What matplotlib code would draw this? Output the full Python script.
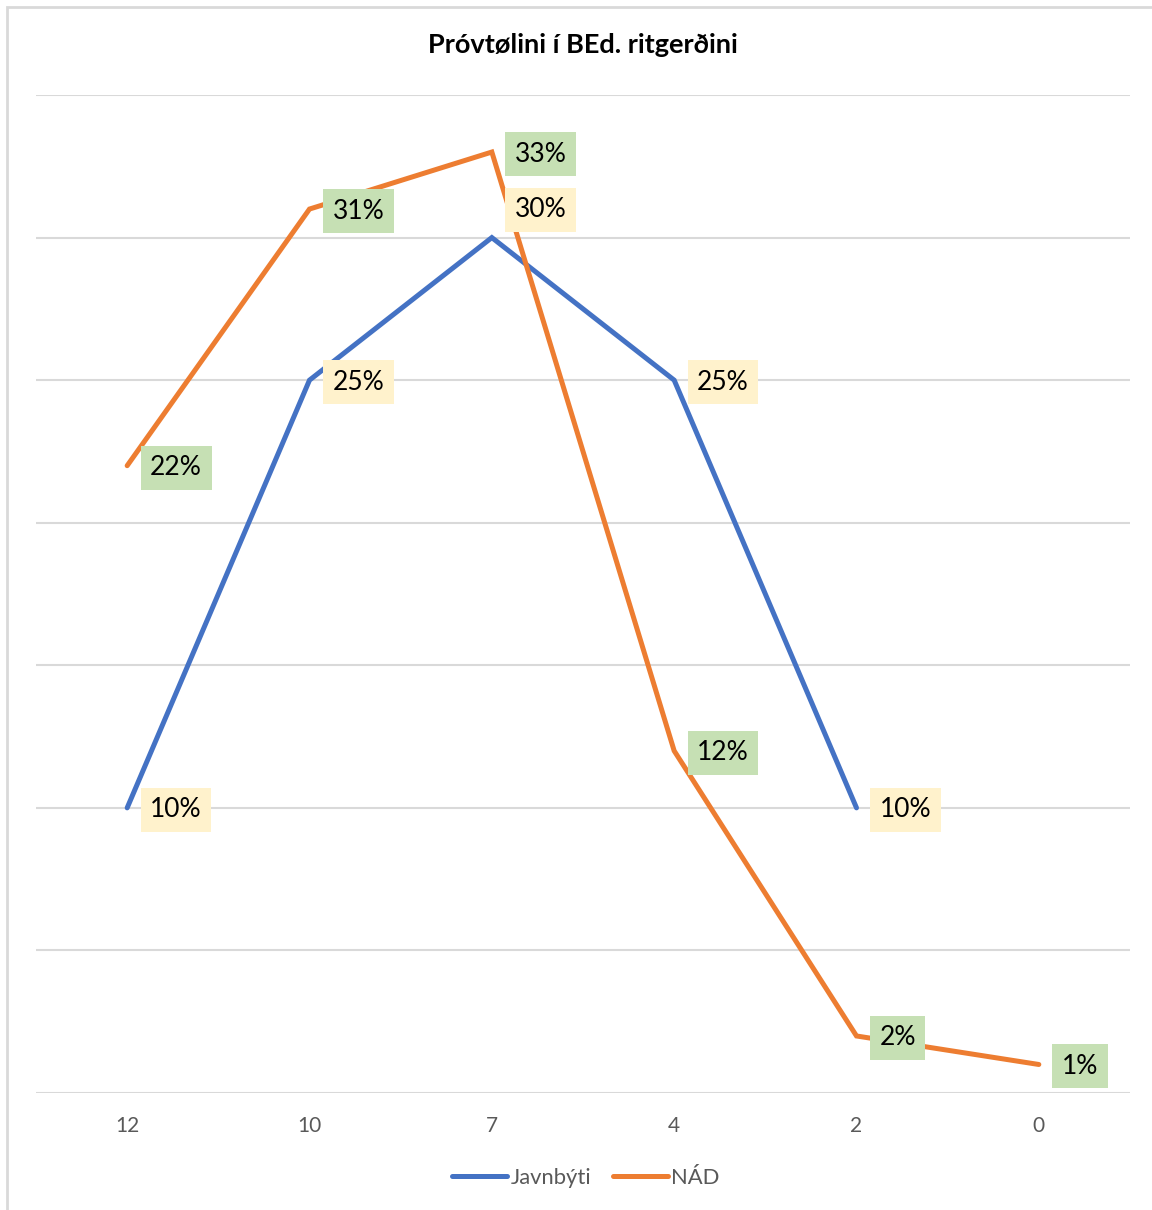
import matplotlib
matplotlib.use("Agg")
import matplotlib.pyplot as plt
from matplotlib.patches import Rectangle
from matplotlib.lines import Line2D

plt.rcParams['font.family'] = ['Lato', 'DejaVu Sans']

title = "Próvtølini í BEd. ritgerðini"
categories = ["12", "10", "7", "4", "2", "0"]
javnbyti = [0.10, 0.25, 0.30, 0.25, 0.10, None]
nad = [0.22, 0.31, 0.33, 0.12, 0.02, 0.01]
series_names = ["Javnbýti", "NÁD"]

blue = "#4472C4"
orange = "#ED7D31"
yellow_box = "#FFF2CC"
green_box = "#C6E0B4"

W, H = 1152, 1210
fig = plt.figure(figsize=(W / 100, H / 100), dpi=100)
ax = fig.add_axes([36 / W, 1 - 1093 / H, (1130 - 36) / W, (1093 - 95) / H])

x = list(range(len(categories)))
bx = [i for i, v in zip(x, javnbyti) if v is not None]
by = [v for v in javnbyti if v is not None]
ax.plot(bx, by, color=blue, lw=3.6, solid_capstyle='round', solid_joinstyle='miter', zorder=3)
ax.plot(x, nad, color=orange, lw=3.6, solid_capstyle='round', solid_joinstyle='miter', zorder=3)

ax.set_xlim(-0.5, len(categories) - 0.5)
ax.set_ylim(0, 0.35)
ax.set_yticks([i * 0.05 for i in range(8)])
ax.yaxis.grid(True, color="#D9D9D9", lw=1.5)
ax.set_axisbelow(True)
ax.tick_params(axis='y', left=False, labelleft=False)
ax.tick_params(axis='x', bottom=False, labelsize=15, colors="#595959", pad=13)
ax.set_xticks(x)
ax.set_xticklabels(categories)
for s in ax.spines.values():
    s.set_visible(False)

# label vertical adjustments in pixels (only where the reference moved a label)
blue_adj = {2: 30}

def label(xi, v, fc, dy=0):
    ax.annotate(f"{round(v * 100)}%", (xi, v), xytext=(23 * 0.72, (dy - 2) * 0.72),
                textcoords='offset points', ha='left', va='center', fontsize=19,
                color='black', zorder=5,
                bbox=dict(boxstyle='square,pad=0.36', fc=fc, ec='none'))

for xi, v in zip(x, javnbyti):
    if v is not None:
        label(xi, v, yellow_box, blue_adj.get(xi, 0))
for xi, v in zip(x, nad):
    label(xi, v, green_box)

fig.text(583 / W, 1 - 45 / H, title, ha='center', va='center', fontsize=19.5,
         fontweight='bold', color='black')

handles = [Line2D([], [], color=blue, lw=3.6, solid_capstyle='round'),
           Line2D([], [], color=orange, lw=3.6, solid_capstyle='round')]
leg = fig.legend(handles, series_names, loc='center', bbox_to_anchor=(586 / W, 1 - 1178 / H),
                 ncol=2, frameon=False, fontsize=15.8, handlelength=2.5, handletextpad=0.15,
                 columnspacing=1.0)
for t in leg.get_texts():
    t.set_color("#595959")

fig.patches.append(Rectangle((7 / W, -0.01), 1.05, 1 - 7 / H + 0.01, transform=fig.transFigure,
                             fill=False, ec="#D9D9D9", lw=2))

fig.savefig("out.png", dpi=100)
